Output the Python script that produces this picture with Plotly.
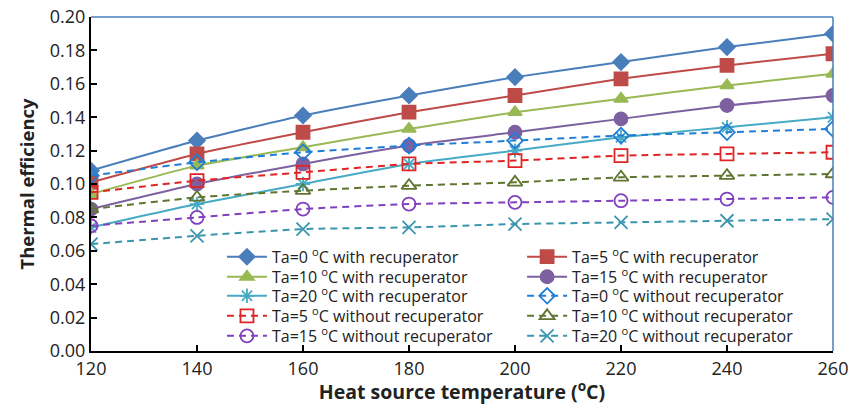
import plotly.graph_objects as go

temps = [120, 140, 160, 180, 200, 220, 240, 260]

ta0_with = [0.108, 0.126, 0.141, 0.153, 0.164, 0.173, 0.182, 0.190]
ta5_with = [0.101, 0.118, 0.131, 0.143, 0.153, 0.163, 0.171, 0.178]
ta10_with = [0.094, 0.111, 0.122, 0.133, 0.143, 0.151, 0.159, 0.166]
ta15_with = [0.085, 0.100, 0.112, 0.123, 0.131, 0.139, 0.147, 0.153]
ta20_with = [0.074, 0.088, 0.100, 0.112, 0.120, 0.128, 0.134, 0.140]
ta0_without = [0.105, 0.113, 0.119, 0.123, 0.126, 0.129, 0.131, 0.133]
ta5_without = [0.095, 0.102, 0.107, 0.112, 0.114, 0.117, 0.118, 0.119]
ta10_without = [0.085, 0.092, 0.096, 0.099, 0.101, 0.104, 0.105, 0.106]
ta15_without = [0.075, 0.080, 0.085, 0.088, 0.089, 0.090, 0.091, 0.092]
ta20_without = [0.064, 0.069, 0.073, 0.074, 0.076, 0.077, 0.078, 0.079]

names = [
    "Ta=0 <sup>o</sup>C with recuperator",
    "Ta=5 <sup>o</sup>C with recuperator",
    "Ta=10 <sup>o</sup>C with recuperator",
    "Ta=15 <sup>o</sup>C with recuperator",
    "Ta=20 <sup>o</sup>C with recuperator",
    "Ta=0 <sup>o</sup>C without recuperator",
    "Ta=5 <sup>o</sup>C without recuperator",
    "Ta=10 <sup>o</sup>C without recuperator",
    "Ta=15 <sup>o</sup>C without recuperator",
    "Ta=20 <sup>o</sup>C without recuperator",
]
series = [ta0_with, ta5_with, ta10_with, ta15_with, ta20_with,
          ta0_without, ta5_without, ta10_without, ta15_without, ta20_without]
colors = ["#4A7EBB", "#BE4B48", "#98B954", "#7D60A0", "#46AAC5",
          "#1F7ED6", "#E02424", "#5F7530", "#8040C0", "#3A96AE"]
symbols = ["diamond", "square", "triangle-up", "circle", "asterisk-open",
           "diamond-open", "square-open", "triangle-up-open", "circle-open", "x-thin-open"]
sizes = [12, 13, 12, 13, 12, 12, 13, 13, 13, 13]
dashed = [False] * 5 + [True] * 5

# 2-column legend laid out row-major; one legend box per entry
legend_cols = [0.1765, 0.581]
legend_rows = [0.282, 0.222, 0.165, 0.105, 0.045]

fig = go.Figure()
legends = {}
for i, (name, vals, c, s, sz, d) in enumerate(zip(names, series, colors, symbols, sizes, dashed)):
    lid = "legend" if i == 0 else f"legend{i + 1}"
    fig.add_trace(go.Scatter(
        x=temps, y=vals, name=name, mode="lines+markers", legend=lid,
        line=dict(color=c, width=2, dash="7px,5px" if d else "solid", shape="spline", smoothing=0.5),
        marker=dict(symbol=s, size=sz, color=c, line=dict(color=c, width=1.8)),
    ))
    legends[lid] = dict(
        x=legend_cols[i % 2], y=legend_rows[i // 2], xanchor="left", yanchor="middle",
        orientation="v", bgcolor="rgba(255,255,255,0)", font=dict(size=16, color="#222"),
        itemwidth=40,
    )

fig.update_layout(
    width=848, height=405,
    margin=dict(l=91, r=15, t=17, b=54, autoexpand=False),
    paper_bgcolor="white", plot_bgcolor="white",
    font=dict(family="Open Sans, Liberation Sans, sans-serif", color="#222"),
    showlegend=True,
    xaxis=dict(
        range=[120, 260], tickvals=temps, ticks="inside", ticklen=6, tickwidth=1.5,
        tickcolor="black", showline=True, linecolor="black", linewidth=2,
        showgrid=False, zeroline=False, tickfont=dict(size=18), ticklabeloverflow="allow",
        title=dict(text="Heat source temperature (<sup>o</sup>C)",
                   font=dict(size=19.5, family="Open Sans, sans-serif", weight="bold"), standoff=4),
    ),
    yaxis=dict(
        range=[0, 0.2], dtick=0.02, tickformat=".2f", ticks="inside", ticklen=6, tickwidth=1.5,
        tickcolor="black", showline=True, linecolor="black", linewidth=2,
        showgrid=False, zeroline=False, tickfont=dict(size=18), ticklabeloverflow="allow",
        title=dict(text="Thermal efficiency",
                   font=dict(size=18.5, family="Open Sans, sans-serif", weight="bold"), standoff=10),
    ),
    shapes=[
        dict(type="line", xref="paper", yref="paper", x0=0, x1=1, y0=1, y1=1,
             line=dict(color="#4A7EBB", width=1.5)),
        dict(type="line", xref="paper", yref="paper", x0=1, x1=1, y0=0, y1=1,
             line=dict(color="#4A7EBB", width=1.5)),
    ],
    **legends,
)

fig.write_html("out.html", config={"displayModeBar": False},
               post_script="document.body.style.margin='0px';")
